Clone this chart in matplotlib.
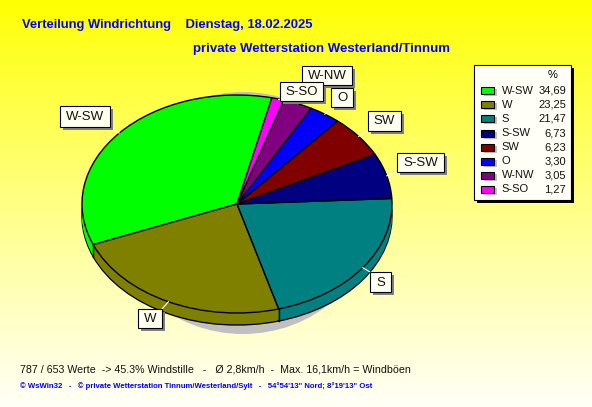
import numpy as np
import matplotlib
matplotlib.use("Agg")
import matplotlib.pyplot as plt
from matplotlib.patches import Rectangle, Ellipse

plt.rcParams["font.family"] = ["Liberation Sans", "DejaVu Sans"]

directions = ["W-SW", "W", "S", "S-SW", "SW", "O", "W-NW", "S-SO"]
percent = [34.69, 23.25, 21.47, 6.73, 6.23, 3.30, 3.05, 1.27]
colors = ["#00ff00", "#808000", "#008080", "#000080", "#800000", "#0000ff", "#800080", "#ff00ff"]

title1 = "Verteilung Windrichtung    Dienstag, 18.02.2025"
title2 = "private Wetterstation Westerland/Tinnum"
foot1 = "787 / 653 Werte  -> 45.3% Windstille   -   Ø 2,8km/h  -  Max. 16,1km/h = Windböen"
foot2 = "© WsWin32   -   © private Wetterstation Tinnum/Westerland/Sylt   -   54°54'13\" Nord; 8°19'13\" Ost"

# label boxes in pixels: left, top, right, bottom
label_boxes = {
    "W-SW": (60, 106, 110, 127),
    "W": (138, 309, 162, 328),
    "S": (370, 272, 391, 292),
    "S-SW": (397, 153, 444, 172),
    "SW": (368, 111, 401, 131),
    "O": (331, 88, 353, 107),
    "W-NW": (302, 66, 352, 85),
    "S-SO": (280, 82, 323, 101),
}

W, H = 592, 407
cx, cy, rx, ry = 237, 204, 155, 109
depth = 12
start = 77

fig = plt.figure(figsize=(W / 100, H / 100), dpi=100)

# background, yellow fading to near white
bg = fig.add_axes([0, 0, 1, 1])
grad = np.ones((H, 1, 3))
t = np.linspace(0, 1, H)
grad[:, 0, 2] = 0.97 * t ** 0.9
bg.imshow(grad, aspect="auto", extent=(0, W, H, 0), zorder=0)
bg.set_xlim(0, W)
bg.set_ylim(H, 0)
bg.axis("off")

bg.add_patch(Ellipse((243, 213), 262, 242, color="#c0c0c0", lw=0, zorder=1))

# pie axes, x and y scaled differently to get the tilted ellipse
pie_ax = fig.add_axes([(cx - 1.3 * rx) / W, 1 - (cy + 1.3 * ry) / H, 2.6 * rx / W, 2.6 * ry / H])
pie_ax.patch.set_alpha(0)

off = depth / ry
pie_ax.pie(percent, colors=colors, startangle=start, center=(0, -off),
           wedgeprops={"edgecolor": "black", "linewidth": 1.0})
for d in np.arange(depth - 1, 0, -1):
    pie_ax.pie(percent, colors=colors, startangle=start, center=(0, -d / ry),
               wedgeprops={"linewidth": 0})
pie_ax.pie(percent, colors=colors, startangle=start,
           wedgeprops={"edgecolor": "black", "linewidth": 1.0})

# vertical edges on the front side
edges = start + np.cumsum([0] + percent[:-1]) * 3.6
for a in edges % 360:
    if 180 < a < 360:
        x = np.cos(np.radians(a))
        y = np.sin(np.radians(a))
        pie_ax.plot([x, x], [y, y - off], color="black", lw=1.0, zorder=5)

pie_ax.set_aspect("auto")
pie_ax.set_xlim(-1.3, 1.3)
pie_ax.set_ylim(-1.3, 1.3)

# overlay in pixel coordinates
ov = fig.add_axes([0, 0, 1, 1])
ov.patch.set_alpha(0)
ov.set_xlim(0, W)
ov.set_ylim(H, 0)
ov.axis("off")

# wedge labels with white leader lines
mids = start + (np.cumsum(percent) - np.array(percent) / 2) * 3.6
for name, mid in zip(directions, mids):
    l, t_, r, b = label_boxes[name]
    px = cx + rx * np.cos(np.radians(mid))
    py = cy - ry * np.sin(np.radians(mid))
    bx = min(max(px, l), r)
    by = min(max(py, t_), b)
    ov.plot([px, bx], [py, by], color="white", lw=0.8, zorder=3)
    ov.add_patch(Rectangle((l + 3, t_ + 3), r - l, b - t_, color="#808080", lw=0, zorder=4))
    ov.add_patch(Rectangle((l, t_), r - l, b - t_, fc="#fffff0", ec="black", lw=0.8, zorder=5))
    ov.text((l + r) / 2, (t_ + b) / 2 + 0.5, name, ha="center", va="center", fontsize=9.5,
            color="#111111", zorder=6)

# legend box
ov.add_patch(Rectangle((477, 68), 97, 135, color="black", lw=0, zorder=4))
ov.add_patch(Rectangle((474, 65), 97, 135, fc="#fffff8", ec="black", lw=0.8, zorder=5))
ov.text(553, 75, "%", ha="center", va="center", fontsize=8, zorder=6)
for i, (name, val, c) in enumerate(zip(directions, percent, colors)):
    y = 90.7 + i * 14.1
    ov.add_patch(Rectangle((484, y - 1.5), 13, 7, color="#c0c0c0", lw=0, zorder=6))
    ov.add_patch(Rectangle((481, y - 3.5), 13, 7, fc=c, ec="black", lw=0.8, zorder=7))
    ov.text(501.5, y, name, ha="left", va="center", fontsize=8, color="#111111", zorder=7)
    ov.text(566, y, f"{val:.2f}".replace(".", ","), ha="right", va="center", fontsize=8,
            color="#111111", zorder=7)

ov.text(22, 25, title1, color="#0000ff", fontsize=9.4, fontweight="bold", va="center")
ov.text(193, 49, title2, color="#0000ff", fontsize=9.55, fontweight="bold", va="center")
ov.text(20, 369, foot1, color="#111111", fontsize=7.7, va="center")
ov.text(20, 386, foot2, color="#0000ff", fontsize=5.55, fontweight="bold", va="center")

fig.savefig("out.png", dpi=100)
